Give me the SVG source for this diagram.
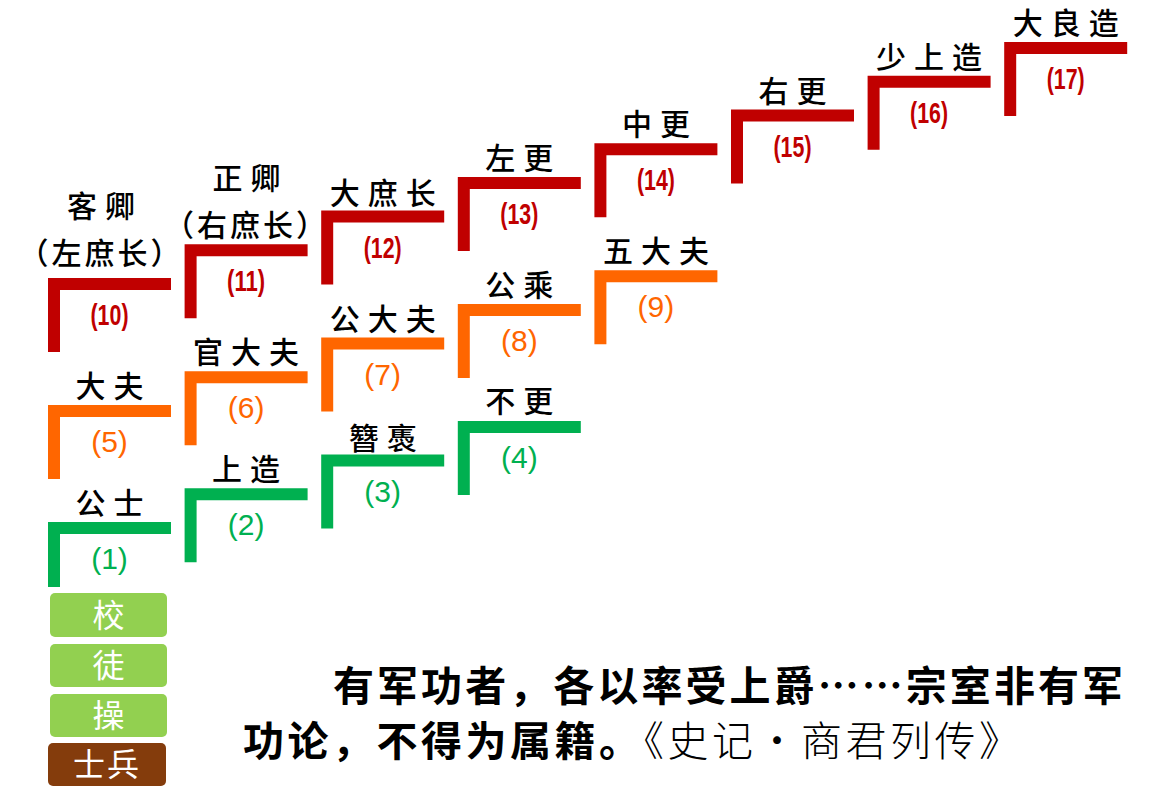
<svg xmlns="http://www.w3.org/2000/svg" xmlns:xlink="http://www.w3.org/1999/xlink" width="1150" height="804" viewBox="0 0 1150 804">
<defs>
<path id="step" d="M0,0 H123 V12 H12 V74 H0 Z"/>
<style>
.red{fill:#C00000}
.org{fill:#FF6600}
.grn{fill:#00B050}
.lbl{font-family:"Noto Sans CJK SC","Noto Sans CJK TC",sans-serif;font-size:30px;font-weight:500;fill:#000;letter-spacing:8px;text-anchor:middle}
.lbl2{font-family:"Noto Sans CJK SC","Noto Sans CJK TC",sans-serif;font-size:30px;font-weight:500;fill:#000;letter-spacing:3px;text-anchor:middle}
.num{font-family:"Liberation Sans",Arial,sans-serif;font-size:30px;text-anchor:middle}
.numr{font-family:"Liberation Sans",Arial,sans-serif;font-size:29px;font-weight:bold;text-anchor:middle;fill:#C00000}
.box{fill:#92D050}
.boxb{fill:#843C0C}
.bt{font-family:"Noto Sans CJK SC",sans-serif;font-size:32px;fill:#fff;text-anchor:middle}
.q{font-family:"Noto Sans CJK SC",sans-serif;font-size:41px;font-weight:bold;fill:#000}
.qc{font-weight:300}
</style>
</defs>
<rect width="1150" height="804" fill="#fff"/>

<g id="connectors"></g>

<!-- Green steps -->
<g id="n1" transform="translate(48,522)">
<path class="grn" d="M0,0 H123 V12 H12 V65 H0 Z"/>
<text class="num grn" x="61.5" y="47">(1)</text>
<text class="lbl" x="65.5" y="-8">公士</text>
</g>
<g id="n2" transform="translate(184.6,488.3)">
<use href="#step" class="grn"/>
<text class="num grn" x="61.5" y="47">(2)</text>
<text class="lbl" x="65.5" y="-8">上造</text>
</g>
<g id="n3" transform="translate(321.2,454.6)">
<use href="#step" class="grn"/>
<text class="num grn" x="61.5" y="47">(3)</text>
<text class="lbl" x="65.5" y="-6">簪褭</text>
</g>
<g id="n4" transform="translate(457.8,421)">
<use href="#step" class="grn"/>
<text class="num grn" x="61.5" y="47">(4)</text>
<text class="lbl" x="65.5" y="-9">不更</text>
</g>

<!-- Orange steps -->
<g id="n5" transform="translate(48,405)">
<use href="#step" class="org"/>
<text class="num org" x="61.5" y="47">(5)</text>
<text class="lbl" x="65.5" y="-8">大夫</text>
</g>
<g id="n6" transform="translate(184.6,371.3)">
<use href="#step" class="org"/>
<text class="num org" x="61.5" y="47">(6)</text>
<text class="lbl" x="65.5" y="-8">官大夫</text>
</g>
<g id="n7" transform="translate(321.2,337.6)">
<use href="#step" class="org"/>
<text class="num org" x="61.5" y="47">(7)</text>
<text class="lbl" x="65.5" y="-8">公大夫</text>
</g>
<g id="n8" transform="translate(457.8,303.9)">
<use href="#step" class="org"/>
<text class="num org" x="61.5" y="47">(8)</text>
<text class="lbl" x="65.5" y="-8">公乘</text>
</g>
<g id="n9" transform="translate(594.4,270.2)">
<use href="#step" class="org"/>
<text class="num org" x="61.5" y="47">(9)</text>
<text class="lbl" x="65.5" y="-8">五大夫</text>
</g>

<!-- Red steps -->
<g id="n10" transform="translate(48,278)">
<use href="#step" class="red"/>
<text class="numr" x="61.5" y="47" textLength="38" lengthAdjust="spacingAndGlyphs">(10)</text>
<text class="lbl" x="57" y="-61">客卿</text>
<text class="lbl2" x="53" y="-14">（左庶长）</text>
</g>
<g id="n11" transform="translate(184.6,244.3)">
<use href="#step" class="red"/>
<text class="numr" x="61.5" y="47" textLength="38" lengthAdjust="spacingAndGlyphs">(11)</text>
<text class="lbl" x="66" y="-55">正卿</text>
<text class="lbl2" x="62" y="-8">（右庶长）</text>
</g>
<g id="n12" transform="translate(321.2,210.6)">
<use href="#step" class="red"/>
<text class="numr" x="61.5" y="47" textLength="38" lengthAdjust="spacingAndGlyphs">(12)</text>
<text class="lbl" x="65.5" y="-7">大庶长</text>
</g>
<g id="n13" transform="translate(457.8,176.9)">
<use href="#step" class="red"/>
<text class="numr" x="61.5" y="47" textLength="38" lengthAdjust="spacingAndGlyphs">(13)</text>
<text class="lbl" x="65.5" y="-8">左更</text>
</g>
<g id="n14" transform="translate(594.4,143.2)">
<use href="#step" class="red"/>
<text class="numr" x="61.5" y="47" textLength="38" lengthAdjust="spacingAndGlyphs">(14)</text>
<text class="lbl" x="65.5" y="-8">中更</text>
</g>
<g id="n15" transform="translate(731,109.5)">
<use href="#step" class="red"/>
<text class="numr" x="61.5" y="47" textLength="38" lengthAdjust="spacingAndGlyphs">(15)</text>
<text class="lbl" x="65.5" y="-8">右更</text>
</g>
<g id="n16" transform="translate(867.6,75.8)">
<use href="#step" class="red"/>
<text class="numr" x="61.5" y="47" textLength="38" lengthAdjust="spacingAndGlyphs">(16)</text>
<text class="lbl" x="65.5" y="-8">少上造</text>
</g>
<g id="n17" transform="translate(1004.2,42.1)">
<use href="#step" class="red"/>
<text class="numr" x="61.5" y="47" textLength="38" lengthAdjust="spacingAndGlyphs">(17)</text>
<text class="lbl" x="65.5" y="-8">大良造</text>
</g>

<!-- Bottom boxes -->
<g id="b1"><rect class="box" x="50" y="593" width="117" height="44" rx="5"/><text class="bt" x="108.5" y="627">校</text></g>
<g id="b2"><rect class="box" x="50" y="644" width="117" height="43" rx="5"/><text class="bt" x="108.5" y="677">徒</text></g>
<g id="b3"><rect class="box" x="50" y="694" width="117" height="43" rx="5"/><text class="bt" x="108.5" y="727">操</text></g>
<g id="b4"><rect class="boxb" x="48" y="743" width="118" height="43" rx="5"/><text class="bt" x="107" y="776" letter-spacing="2">士兵</text></g>

<!-- Quote -->
<g id="quote">
<text class="q" x="333" y="701" textLength="790" lengthAdjust="spacing">有军功者，各以率受上爵……宗室非有军</text>
<text class="q" x="243" y="756" letter-spacing="3.5">功论，不得为属籍。<tspan class="qc">《史记·商君列传》</tspan></text>
</g>
</svg>
